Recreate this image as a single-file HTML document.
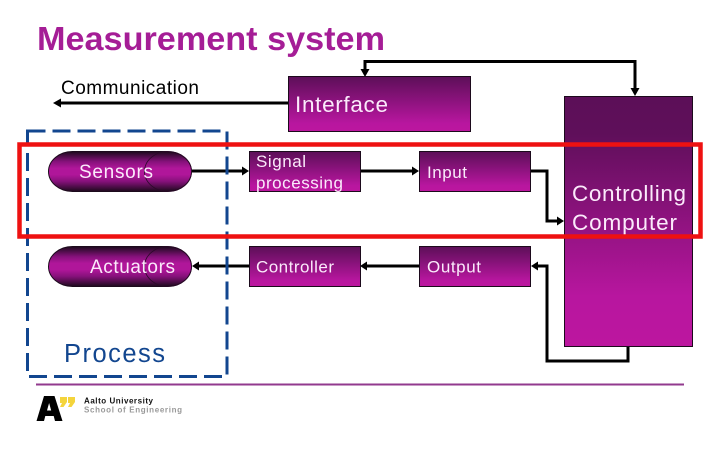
<!DOCTYPE html>
<html><head><meta charset="utf-8"><style>
html,body{margin:0;padding:0;background:#fff}
svg{display:block}
text{font-family:"Liberation Sans",sans-serif}
</style></head><body>
<svg width="720" height="450" viewBox="0 0 720 450" xmlns="http://www.w3.org/2000/svg">
<defs>
<linearGradient id="g" x1="0" y1="0" x2="0" y2="1"><stop offset="0" stop-color="#5c0f58"/><stop offset="0.85" stop-color="#b8169f"/><stop offset="1" stop-color="#bc169f"/></linearGradient>
<linearGradient id="c" x1="0" y1="0" x2="0" y2="1"><stop offset="0" stop-color="#5c0f58"/><stop offset="0.15" stop-color="#5f0f5a"/><stop offset="0.8" stop-color="#b8169f"/><stop offset="1" stop-color="#bc169f"/></linearGradient>
<linearGradient id="p" x1="0" y1="0" x2="0" y2="1"><stop offset="0" stop-color="#1c0a1c"/><stop offset="0.25" stop-color="#85117a"/><stop offset="0.42" stop-color="#b0169a"/><stop offset="0.58" stop-color="#b0169a"/><stop offset="0.75" stop-color="#85117a"/><stop offset="1" stop-color="#1c0a1c"/></linearGradient>
</defs>
<rect width="720" height="450" fill="#fff"/>
<text x="37" y="50" font-size="33.500" font-weight="bold" fill="#a51d96" textLength="348" lengthAdjust="spacingAndGlyphs">Measurement system</text>
<text x="61" y="94" font-size="19" fill="#000" textLength="138" lengthAdjust="spacing">Communication</text>

<g stroke="#000" stroke-width="3" fill="none">
<path d="M60 103H289"/>
<path d="M365 70V61.500H635V90"/>
<path d="M192 171H243"/>
<path d="M360 171H413"/>
<path d="M531 171H547V221H558"/>
<path d="M628 346V361H547V266H537"/>
<path d="M419 266H366"/>
<path d="M249 266H198"/>
</g>
<g fill="#000">
<path d="M53 103l8-4.500v9z"/>
<path d="M365 77l-4.500-8h9z"/>
<path d="M635 96l-4.500-8h9z"/>
<path d="M249 171l-7-4.500v9z"/>
<path d="M419 171l-7-4.500v9z"/>
<path d="M564 221l-7-4.500v9z"/>
<path d="M531 266l7-4.500v9z"/>
<path d="M360 266l7-4.500v9z"/>
<path d="M192 266l7-4.500v9z"/>
</g>

<rect x="288.500" y="76.500" width="182" height="55" fill="url(#g)" stroke="#1c0a1c"/>
<rect x="249.500" y="151.500" width="111" height="40" fill="url(#g)" stroke="#1c0a1c"/>
<rect x="419.500" y="151.500" width="111" height="40" fill="url(#g)" stroke="#1c0a1c"/>
<rect x="249.500" y="246.500" width="111" height="40" fill="url(#g)" stroke="#1c0a1c"/>
<rect x="419.500" y="246.500" width="111" height="40" fill="url(#g)" stroke="#1c0a1c"/>
<rect x="564.500" y="96.500" width="128" height="250" fill="url(#c)" stroke="#1c0a1c"/>

<rect x="48.500" y="151.500" width="143" height="40" rx="24" ry="20" fill="url(#p)" stroke="#1c0a1c"/>
<ellipse cx="168" cy="171.500" rx="23.500" ry="20" fill="none" stroke="#2a0a28" stroke-width="0.800"/>
<rect x="48.500" y="246.500" width="143" height="40" rx="24" ry="20" fill="url(#p)" stroke="#1c0a1c"/>
<ellipse cx="168" cy="266.500" rx="23.500" ry="20" fill="none" stroke="#2a0a28" stroke-width="0.800"/>

<g fill="#fbeafb">
<text x="295" y="112" font-size="22.500" textLength="93" lengthAdjust="spacing">Interface</text>
<text x="79" y="178" font-size="19" textLength="74" lengthAdjust="spacing">Sensors</text>
<text x="90" y="273" font-size="19" textLength="85" lengthAdjust="spacing">Actuators</text>
<text x="256" y="167" font-size="17" textLength="50" lengthAdjust="spacing">Signal</text>
<text x="256" y="188.500" font-size="17" textLength="87" lengthAdjust="spacing">processing</text>
<text x="427" y="178" font-size="17" textLength="40" lengthAdjust="spacing">Input</text>
<text x="256" y="272.500" font-size="17" textLength="78" lengthAdjust="spacing">Controller</text>
<text x="427" y="272.500" font-size="17" textLength="54" lengthAdjust="spacing">Output</text>
<text x="572" y="201" font-size="22.500" textLength="114" lengthAdjust="spacing">Controlling</text>
<text x="572" y="230" font-size="22.500" textLength="105" lengthAdjust="spacing">Computer</text>
</g>

<rect x="27.500" y="131" width="199.500" height="245.500" fill="none" stroke="#12468f" stroke-width="3" stroke-dasharray="18 7"/>
<text x="64" y="362" font-size="25.500" fill="#12468f" textLength="101" lengthAdjust="spacing">Process</text>

<rect x="19.500" y="144.500" width="681" height="92" fill="none" stroke="#ee1111" stroke-width="4.500"/>

<rect x="36" y="383.500" width="648" height="2" fill="#923a8e"/>

<path d="M44 396h10.500l8 25h-7.500l-1.300-5h-8.400l-1.300 5h-7.500z M47 410.500h4.200l-2.100-7.500z" fill="#000" fill-rule="evenodd"/>
<path d="M60 397h7v5l-3.500 5h-3.500l2-4h-2z M68 397h7v5l-3.500 5h-3.500l2-4h-2z" fill="#f4d43c"/>
<text x="84" y="403.500" font-size="8" font-weight="bold" fill="#111" textLength="69" lengthAdjust="spacing">Aalto University</text>
<text x="84" y="412.500" font-size="8" font-weight="bold" fill="#999" textLength="98" lengthAdjust="spacing">School of Engineering</text>
</svg>
</body></html>
